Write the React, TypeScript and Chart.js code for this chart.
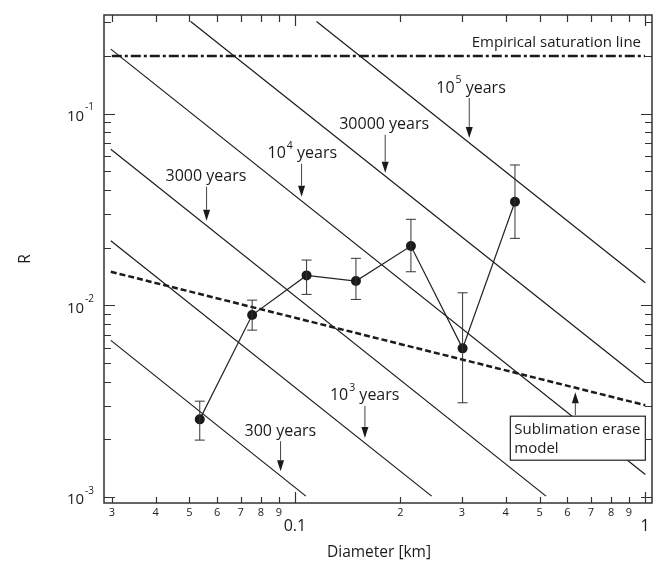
import React, { useEffect, useRef } from "react";
import { Chart, registerables } from "chart.js";

Chart.register(...registerables);

// ---- measured crater data ----
const diameters = [0.0535, 0.0755, 0.108, 0.1494, 0.2145, 0.3013, 0.4252];
const rValues = [0.00254, 0.00889, 0.01432, 0.01338, 0.02037, 0.00596, 0.0347];
const rErrHigh = [0.00316, 0.01064, 0.01722, 0.01758, 0.02809, 0.01162, 0.05396];
const rErrLow = [0.00198, 0.00742, 0.0114, 0.01073, 0.01496, 0.0031, 0.02235];

// ---- isochron lines (endpoints) ----
const isochronNames = ["300 years", "10^3 years", "3000 years", "10^4 years", "30000 years", "10^5 years"];
const isochronStartD = [0.0298, 0.0298, 0.0298, 0.0298, 0.0504, 0.1153];
const isochronStartR = [0.00656, 0.02172, 0.06518, 0.217, 0.3022, 0.3022];
const isochronEndD = [0.1075, 0.2458, 0.5214, 1.002, 1.002, 1.002];
const isochronEndR = [0.00101, 0.00101, 0.00101, 0.00131, 0.00394, 0.0131];

// ---- saturation & sublimation model ----
const saturationD = [0.03, 1.0];
const saturationR = [0.2, 0.2];
const sublimationD = [0.0298, 1.002];
const sublimationR = [0.01496, 0.00301];

// ---- axes ----
const xMin = 0.0285;
const xMax = 1.047;
const yMin = 0.00093;
const yMax = 0.327;
const xMinorTicks = [0.03, 0.04, 0.05, 0.06, 0.07, 0.08, 0.09, 0.2, 0.3, 0.4, 0.5, 0.6, 0.7, 0.8, 0.9];
const xMinorLabels = ["3", "4", "5", "6", "7", "8", "9", "2", "3", "4", "5", "6", "7", "8", "9"];
const xMajorTicks = [0.1, 1];
const xMajorLabels = ["0.1", "1"];
const yMajorTicks = [0.001, 0.01, 0.1];
const yMajorExp = ["-3", "-2", "-1"];
const yMinorTicks = [
  0.002, 0.003, 0.004, 0.005, 0.006, 0.007, 0.008, 0.009,
  0.02, 0.03, 0.04, 0.05, 0.06, 0.07, 0.08, 0.09,
  0.2, 0.3,
];
const xTitle = "Diameter [km]";
const yTitle = "R";

// ---- annotations: arrow tips (data), label base / superscript / rest ----
const arrowTipD = [0.3148, 0.1811, 0.1045, 0.05595, 0.1585, 0.09102];
const arrowTipR = [0.07465, 0.04918, 0.03687, 0.02763, 0.002033, 0.001362];
const arrowLabelBase = ["10", "30000", "10", "3000", "10", "300"];
const arrowLabelSup = ["5", "", "4", "", "3", ""];
const arrowLabelRest = ["years", "years", "years", "years", "years", "years"];
const saturationLabel = "Empirical saturation line";
const sublimationTipD = 0.6324;
const sublimationTipR = 0.00352;
const sublimationLabel = ["Sublimation erase", "model"];

const FONT = "'Open Sans', Lato, sans-serif";
const INK = "#1a1a1a";

function drawSupText(
  ctx: CanvasRenderingContext2D,
  x: number,
  y: number,
  base: string,
  sup: string,
  rest: string,
  size: number,
  supSize: number,
  supRaise: number,
  align: "left" | "right"
) {
  ctx.textBaseline = "middle";
  ctx.textAlign = "left";
  ctx.font = `${size}px ${FONT}`;
  const wb = ctx.measureText(base).width;
  ctx.font = `${supSize}px ${FONT}`;
  const ws = sup ? ctx.measureText(sup).width + 1 : 0;
  ctx.font = `${size}px ${FONT}`;
  const restText = rest ? " " + rest : "";
  const wr = restText ? ctx.measureText(restText).width : 0;
  const total = wb + ws + wr;
  let sx = align === "left" ? x : x - total;
  ctx.fillText(base, sx, y);
  sx += wb;
  if (sup) {
    ctx.font = `${supSize}px ${FONT}`;
    ctx.fillText(sup, sx + 1, y - supRaise);
    sx += ws;
  }
  if (restText) {
    ctx.font = `${size}px ${FONT}`;
    ctx.fillText(restText, sx, y);
  }
}

function drawArrow(ctx: CanvasRenderingContext2D, x: number, y0: number, y1: number) {
  const dir = y1 > y0 ? 1 : -1;
  const head = 11;
  ctx.strokeStyle = "#444";
  ctx.lineWidth = 1;
  ctx.beginPath();
  ctx.moveTo(x, y0);
  ctx.lineTo(x, y1 - dir * head);
  ctx.stroke();
  ctx.fillStyle = INK;
  ctx.beginPath();
  ctx.moveTo(x, y1);
  ctx.lineTo(x - 3.5, y1 - dir * head);
  ctx.lineTo(x + 3.5, y1 - dir * head);
  ctx.closePath();
  ctx.fill();
}

const overlayPlugin = {
  id: "overlay",
  afterDatasetsDraw(chart: any) {
    const ctx: CanvasRenderingContext2D = chart.ctx;
    const xs = chart.scales.x;
    const ys = chart.scales.y;
    const { left, right, top, bottom } = chart.chartArea;
    ctx.save();

    // error bars
    ctx.strokeStyle = "#333";
    ctx.lineWidth = 1;
    for (let i = 0; i < diameters.length; i++) {
      const px = xs.getPixelForValue(diameters[i]);
      const ph = ys.getPixelForValue(rErrHigh[i]);
      const pl = ys.getPixelForValue(rErrLow[i]);
      ctx.beginPath();
      ctx.moveTo(px, ph);
      ctx.lineTo(px, pl);
      ctx.moveTo(px - 5, ph);
      ctx.lineTo(px + 5, ph);
      ctx.moveTo(px - 5, pl);
      ctx.lineTo(px + 5, pl);
      ctx.stroke();
    }

    // sublimation label box + arrow
    const stx = xs.getPixelForValue(sublimationTipD);
    const sty = ys.getPixelForValue(sublimationTipR);
    const bx = stx - 65;
    const by = sty + 24;
    const bw = 135;
    const bh = 44;
    ctx.fillStyle = "#fff";
    ctx.fillRect(bx, by, bw, bh);
    ctx.strokeStyle = "#222";
    ctx.lineWidth = 1.2;
    ctx.strokeRect(bx, by, bw, bh);
    ctx.fillStyle = INK;
    ctx.font = `15px ${FONT}`;
    ctx.textAlign = "left";
    ctx.textBaseline = "middle";
    ctx.fillText(sublimationLabel[0], bx + 4, by + 14);
    ctx.fillText(sublimationLabel[1], bx + 4, by + 33);
    drawArrow(ctx, stx, by - 1, sty);

    // isochron arrows + labels
    const labelDx = [-33, -46, -34, -41, -35, -36];
    const arrowLen = [40, 38, 33, 34, 32, 30];
    for (let i = 0; i < arrowTipD.length; i++) {
      const ax = xs.getPixelForValue(arrowTipD[i]);
      const ay = ys.getPixelForValue(arrowTipR[i]);
      const len = arrowLen[i];
      drawArrow(ctx, ax, ay - len, ay);
      ctx.fillStyle = INK;
      drawSupText(ctx, ax + labelDx[i], ay - len - 10, arrowLabelBase[i], arrowLabelSup[i], arrowLabelRest[i], 16, 10.5, 8, "left");
    }

    // saturation label
    ctx.fillStyle = INK;
    ctx.font = `15px ${FONT}`;
    ctx.textAlign = "right";
    ctx.textBaseline = "middle";
    ctx.fillText(saturationLabel, right - 11, ys.getPixelForValue(saturationR[0]) - 13);

    // frame
    ctx.strokeStyle = "#333";
    ctx.lineWidth = 1.5;
    ctx.strokeRect(left, top, right - left, bottom - top);

    // ticks
    ctx.lineWidth = 1.2;
    ctx.beginPath();
    for (const v of xMinorTicks) {
      const p = Math.round(xs.getPixelForValue(v)) + 0.5;
      ctx.moveTo(p, bottom);
      ctx.lineTo(p, bottom - 6);
      ctx.moveTo(p, top);
      ctx.lineTo(p, top + 7);
    }
    for (const v of xMajorTicks) {
      const p = Math.round(xs.getPixelForValue(v)) + 0.5;
      ctx.moveTo(p, bottom);
      ctx.lineTo(p, bottom - 11);
      ctx.moveTo(p, top);
      ctx.lineTo(p, top + 11);
    }
    for (const v of yMinorTicks) {
      const p = Math.round(ys.getPixelForValue(v)) + 0.5;
      ctx.moveTo(left, p);
      ctx.lineTo(left + 7, p);
      ctx.moveTo(right, p);
      ctx.lineTo(right - 7, p);
    }
    for (const v of yMajorTicks) {
      const p = Math.round(ys.getPixelForValue(v)) + 0.5;
      ctx.moveTo(left, p);
      ctx.lineTo(left + 11, p);
      ctx.moveTo(right, p);
      ctx.lineTo(right - 11, p);
    }
    ctx.stroke();

    // tick labels
    ctx.fillStyle = INK;
    ctx.textAlign = "center";
    ctx.textBaseline = "middle";
    ctx.font = `11px ${FONT}`;
    xMinorTicks.forEach((v, i) => {
      ctx.fillText(xMinorLabels[i], xs.getPixelForValue(v), bottom + 10);
    });
    ctx.font = `16px ${FONT}`;
    xMajorTicks.forEach((v, i) => {
      ctx.fillText(xMajorLabels[i], xs.getPixelForValue(v), bottom + 23);
    });
    yMajorTicks.forEach((v, i) => {
      const p = ys.getPixelForValue(v);
      drawSupText(ctx, left - 10, p + 3, "10", yMajorExp[i], "", 15, 10, 9, "right");
    });

    // axis titles
    ctx.fillStyle = INK;
    ctx.font = `15.5px ${FONT}`;
    ctx.textAlign = "center";
    ctx.textBaseline = "middle";
    ctx.fillText(xTitle, (left + right) / 2 + 1, bottom + 50);
    ctx.save();
    ctx.translate(26, (top + bottom) / 2);
    ctx.rotate(-Math.PI / 2);
    ctx.font = `15.5px ${FONT}`;
    ctx.fillText(yTitle, 0, 0);
    ctx.restore();

    ctx.restore();
  },
};

export default function App() {
  const canvasRef = useRef<HTMLCanvasElement | null>(null);

  useEffect(() => {
    if (!canvasRef.current) return;
    const lineDs = (xsArr: number[], ysArr: number[], extra: any) => ({
      type: "line",
      data: xsArr.map((x, i) => ({ x, y: ysArr[i] })),
      borderColor: INK,
      borderWidth: 1,
      pointRadius: 0,
      fill: false,
      ...extra,
    });
    const datasets: any[] = [
      lineDs(diameters, rValues, {
        label: "Observed R",
        borderColor: "#222",
        borderWidth: 1.2,
        pointRadius: 5,
        pointBackgroundColor: INK,
        pointBorderColor: INK,
        pointBorderWidth: 0,
      }),
      lineDs(saturationD, saturationR, {
        label: "Empirical saturation line",
        borderWidth: 2.5,
        borderDash: [10, 3, 3, 3],
      }),
      lineDs(sublimationD, sublimationR, {
        label: "Sublimation erase model",
        borderWidth: 2.5,
        borderDash: [6, 3],
      }),
      ...isochronNames.map((name, i) =>
        lineDs([isochronStartD[i], isochronEndD[i]], [isochronStartR[i], isochronEndR[i]], {
          label: name,
          borderWidth: 1.2,
        })
      ),
    ];

    const chart = new Chart(canvasRef.current, {
      type: "line",
      data: { datasets },
      options: {
        animation: false,
        responsive: true,
        maintainAspectRatio: false,
        devicePixelRatio: 1,
        layout: { padding: { left: 104, top: 15, right: 20, bottom: 69 } },
        plugins: { legend: { display: false }, tooltip: { enabled: false } },
        scales: {
          x: { type: "logarithmic", min: xMin, max: xMax, display: false },
          y: { type: "logarithmic", min: yMin, max: yMax, display: false },
        },
      },
      plugins: [overlayPlugin],
    } as any);
    return () => chart.destroy();
  }, []);

  return (
    <div style={{ position: "fixed", left: 0, top: 0, width: 672, height: 572, background: "#fff" }}>
      <canvas ref={canvasRef} />
    </div>
  );
}
